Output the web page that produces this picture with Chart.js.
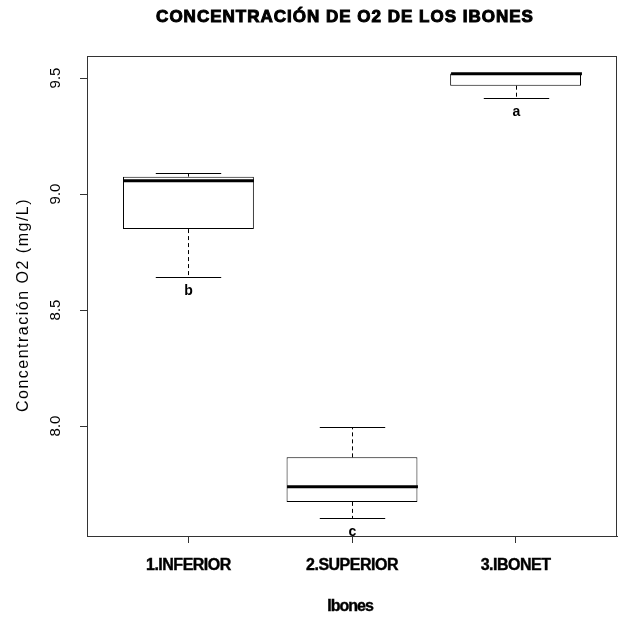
<!DOCTYPE html>
<html>
<head>
<meta charset="utf-8">
<script src="https://cdn.jsdelivr.net/npm/chart.js@4"></script>
<style>
  html, body { margin: 0; padding: 0; background: #fff; }
  canvas { display: block; }
</style>
</head>
<body>
<canvas id="grafico" width="619" height="619"></canvas>
<script>
// ------------------------------------------------------------
//  Datos leídos del boxplot
// ------------------------------------------------------------
const categorias = ['1.INFERIOR', '2.SUPERIOR', '3.IBONET']
const minimos    = [8.641, 7.602, 9.412]
const cuartil1   = [8.849, 7.673, 9.467]
const medianas   = [9.057, 7.738, 9.518]
const cuartil3   = [9.075, 7.865, 9.520]
const maximos    = [9.089, 7.994, 9.520]
const letras     = ['b', 'c', 'a']
const yTicks     = [8.0, 8.5, 9.0, 9.5]

const titulo  = 'CONCENTRACIÓN DE O2 DE LOS IBONES'
const tituloX = 'Ibones'
const tituloY = 'Concentración O2 (mg/L)'

const FUENTE = '"Liberation Sans", Arial, sans-serif'
const GRIS   = '#333'

// texto con trazo extra para imitar la negrita gruesa de R
function textoGrueso(ctx, txt, x, y, grosor) {
  ctx.fillText(txt, x, y)
  ctx.lineWidth = grosor
  ctx.strokeStyle = '#000'
  ctx.strokeText(txt, x, y)
}

// ------------------------------------------------------------
//  Plugin: bigotes, medianas, letras, marco y textos
// ------------------------------------------------------------
const boxplotPlugin = {
  id: 'boxplot',
  afterDatasetsDraw(chart) {
    const ctx  = chart.ctx
    const xs   = chart.scales.x
    const ys   = chart.scales.y
    const meta = chart.getDatasetMeta(0)

    ctx.save()
    ctx.strokeStyle = '#000'
    categorias.forEach((c, i) => {
      const x    = Math.round(xs.getPixelForValue(i + 1)) + 0.5
      const half = meta.data[i].width / 2
      const cap  = half / 2

      // bigotes discontinuos
      ctx.lineWidth = 1
      ctx.setLineDash([4, 3])
      ctx.beginPath()
      ctx.moveTo(x, ys.getPixelForValue(cuartil3[i]))
      ctx.lineTo(x, ys.getPixelForValue(maximos[i]))
      ctx.moveTo(x, ys.getPixelForValue(cuartil1[i]))
      ctx.lineTo(x, ys.getPixelForValue(minimos[i]))
      ctx.stroke()

      // topes
      ctx.setLineDash([])
      ctx.beginPath()
      const yMax = Math.round(ys.getPixelForValue(maximos[i])) + 0.5
      const yMin = Math.round(ys.getPixelForValue(minimos[i])) + 0.5
      ctx.moveTo(x - cap, yMax); ctx.lineTo(x + cap, yMax)
      ctx.moveTo(x - cap, yMin); ctx.lineTo(x + cap, yMin)
      ctx.stroke()

      // mediana
      ctx.lineWidth = 3
      ctx.beginPath()
      const yMed = ys.getPixelForValue(medianas[i])
      ctx.moveTo(x - half, yMed); ctx.lineTo(x + half, yMed)
      ctx.stroke()

      // letra de grupo
      ctx.fillStyle = '#000'
      ctx.font = 'bold 14px ' + FUENTE
      ctx.textAlign = 'center'
      ctx.textBaseline = 'middle'
      ctx.fillText(letras[i], x, ys.getPixelForValue(minimos[i]) + 14)
    })
    ctx.restore()
  },
  afterDraw(chart) {
    const ctx = chart.ctx
    const a   = chart.chartArea
    const xs  = chart.scales.x
    const ys  = chart.scales.y
    const cx  = (a.left + a.right) / 2

    ctx.save()
    // marco del gráfico
    ctx.strokeStyle = GRIS
    ctx.lineWidth = 1
    ctx.strokeRect(Math.round(a.left) + 0.5, Math.round(a.top) + 0.5,
                   Math.round(a.right - a.left) - 1, Math.round(a.bottom - a.top))

    ctx.fillStyle = '#000'
    ctx.textAlign = 'center'
    ctx.textBaseline = 'middle'

    // etiquetas del eje Y (rotadas, como en R)
    ctx.font = '15px ' + FUENTE
    yTicks.forEach(v => {
      ctx.save()
      ctx.translate(56, ys.getPixelForValue(v))
      ctx.rotate(-Math.PI / 2)
      ctx.fillText(v.toFixed(1), 0, 0)
      ctx.restore()
    })

    // título del eje Y
    ctx.save()
    ctx.translate(24, 305)
    ctx.rotate(-Math.PI / 2)
    ctx.font = '16px ' + FUENTE
    ctx.letterSpacing = '1.5px'
    ctx.fillText(tituloY, 0, 0)
    ctx.restore()

    // etiquetas del eje X
    ctx.font = 'bold 16px ' + FUENTE
    ctx.letterSpacing = '-0.5px'
    categorias.forEach((c, i) => {
      textoGrueso(ctx, c, xs.getPixelForValue(i + 1), 566, 0.4)
    })

    // título del eje X
    ctx.font = 'bold 16px ' + FUENTE
    ctx.letterSpacing = '-1px'
    textoGrueso(ctx, tituloX, cx - 2, 607, 0.4)

    // título principal
    ctx.font = 'bold 17px ' + FUENTE
    ctx.letterSpacing = '1px'
    textoGrueso(ctx, titulo, cx - 7, 17, 1.0)
    ctx.restore()
  }
}

// ------------------------------------------------------------
//  Gráfico
// ------------------------------------------------------------
new Chart(document.getElementById('grafico'), {
  type: 'bar',
  data: {
    datasets: [{
      data: categorias.map((c, i) => ({ x: i + 1, y: [cuartil1[i], cuartil3[i]] })),
      backgroundColor: '#fff',
      borderColor: '#000',
      borderWidth: 1,
      borderSkipped: false,
      barPercentage: 1.0,
      categoryPercentage: 0.8,
    }]
  },
  options: {
    responsive: false,
    animation: false,
    layout: { padding: { top: 56, right: 2, left: 0, bottom: 0 } },
    plugins: {
      legend:  { display: false },
      tooltip: { enabled: false },
    },
    scales: {
      x: {
        type: 'linear',
        offset: false,
        min: 0.38,
        max: 3.62,
        afterBuildTicks: s => { s.ticks = categorias.map((c, i) => ({ value: i + 1 })) },
        afterFit: s => { s.height = 83 },
        ticks:  { display: false },
        grid:   { offset: false, drawOnChartArea: false, tickLength: 7, color: GRIS },
        border: { display: true, color: GRIS },
      },
      y: {
        min: 7.526,
        max: 9.595,
        afterBuildTicks: s => { s.ticks = yTicks.map(v => ({ value: v })) },
        afterFit: s => { s.width = 87 },
        ticks:  { display: false },
        grid:   { drawOnChartArea: false, tickLength: 7, color: GRIS },
        border: { display: true, color: GRIS },
      }
    }
  },
  plugins: [boxplotPlugin]
})
</script>
</body>
</html>
